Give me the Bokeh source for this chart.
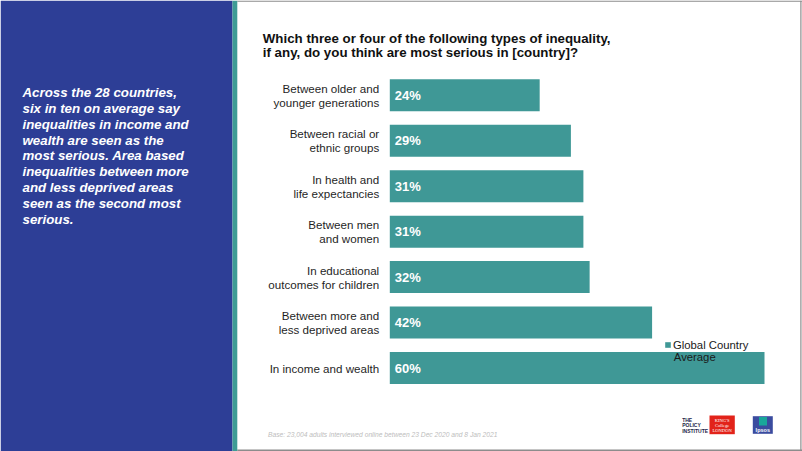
from bokeh.plotting import figure
from bokeh.models import (ColumnDataSource, Range1d, BoxAnnotation,
                          LabelSet, Legend, LegendItem)
from bokeh.core.properties import value
from bokeh.embed import file_html
from bokeh.resources import INLINE

# ---------------- data ----------------
categories = [
    "Between older and\nyounger generations",
    "Between racial or\nethnic groups",
    "In health and\nlife expectancies",
    "Between men\nand women",
    "In educational\noutcomes for children",
    "Between more and\nless deprived areas",
    "In income and wealth",
]
values = [24, 29, 31, 31, 32, 42, 60]
series_label = ["Global Country", "Average"]

title_lines = [
    "Which three or four of the following types of inequality,",
    "if any, do you think are most serious in [country]?",
]
side_lines = [
    "Across the 28 countries,",
    "six in ten on average say",
    "inequalities in income and",
    "wealth are seen as the",
    "most serious.  Area based",
    "inequalities between more",
    "and less deprived areas",
    "seen as the second most",
    "serious.",
]
footnote = "Base: 23,004 adults interviewed online between 23 Dec 2020 and 8 Jan 2021"

# ---------------- layout helpers ----------------
W, H = 802, 451
OFF = 0  # bokeh's page template has no body margin


def sx(x):
    return x - OFF


def sy(y):
    return H - (y - OFF)


FONT_S = "Liberation Sans"
FONT = value(FONT_S)
BAR = "#3F9896"
BLUE = "#2D3E96"
GREY = "#8C8C8C"

PX_PER_PCT = 6.245
BAR0 = 389.3
ROW = 45.45
ROW0 = 367.5  # centre of the bottom row (reference pixels)

x_range = Range1d((OFF - BAR0) / PX_PER_PCT, (OFF + W - BAR0) / PX_PER_PCT)
y_range = Range1d((ROW0 - (OFF + H)) / ROW, (ROW0 - OFF) / ROW)

n = len(categories)
src = ColumnDataSource(dict(
    y=[n - 1 - i for i in range(n)],
    value=values,
    cat=categories,
    pct=[f"{v}%" for v in values],
))

p = figure(width=W, height=H, x_range=x_range, y_range=y_range,
           output_backend="svg", toolbar_location=None,
           x_axis_type=None, y_axis_type=None, title=None,
           min_border=0, outline_line_color=None,
           background_fill_color="white", border_fill_color="white")


def box(l, r, t, b, color, level="annotation"):
    p.add_layout(BoxAnnotation(left=sx(l), right=sx(r), top=sy(t), bottom=sy(b),
                               left_units="screen", right_units="screen",
                               top_units="screen", bottom_units="screen",
                               fill_color=color, fill_alpha=1, line_color=None,
                               level=level))


def lines(x, y0, pitch, texts, size, color, style="normal", align="left",
          font=FONT_S):
    s = ColumnDataSource(dict(
        x=[sx(x)] * len(texts),
        y=[sy(y0 + pitch * i) for i in range(len(texts))],
        t=list(texts),
    ))
    p.add_layout(LabelSet(x="x", y="y", text="t", source=s,
                          x_units="screen", y_units="screen",
                          text_font=value(font), text_font_style=style,
                          text_font_size=size, text_color=color,
                          text_align=align, text_baseline="alphabetic"))


# slide frame, left panel + stripe
box(236.8, 802, 0, 1.2, GREY, "underlay")
box(236.8, 802, 449, 450.5, GREY, "underlay")
box(799.8, 801, 0, 451, GREY, "underlay")
box(0, 232, 0, 451, BLUE, "underlay")
box(232, 236.8, 0, 451, "#3E9C95", "underlay")

lines(22, 96.7, 15.8, side_lines, "13.3px", "white", "bold italic")
lines(262.3, 42.7, 13.8, title_lines, "13.3px", "#111111", "bold")

# bars
bars = p.hbar(y="y", left=0, right="value", height=0.704, source=src,
              fill_color=BAR, line_color=None)

p.text(x=0, y="y", text="pct", source=src, x_offset=5, text_align="left",
       text_baseline="middle", text_color="white", text_font=FONT,
       text_font_style="bold", text_font_size="13px")

p.text(x=0, y="y", text="cat", source=src, x_offset=-10.6, text_align="right",
       text_baseline="middle", text_color="#1F1F1F", text_font=FONT,
       text_font_size="11.6px", text_line_height=1.08)

# legend
legend = Legend(items=[LegendItem(label=series_label[0], renderers=[bars])],
                location=(sx(664.0), sy(350.5)),
                glyph_width=7, glyph_height=7, label_standoff=2,
                padding=0, margin=0, spacing=0, label_height=10,
                border_line_color=None, background_fill_alpha=0,
                label_text_font=FONT_S, label_text_font_size="11.3px",
                label_text_color="#1A1A1A")
p.add_layout(legend)
lines(673.3, 360.3, 0, [series_label[1]], "11.3px", "#1A1A1A")

# footnote
lines(267.5, 436.7, 0, [footnote], "6.7px", "#BDBDBD", "italic")

# logos
lines(681.7, 421.5, 5.3, ["THE", "POLICY", "INSTITUTE"], "5px", "#1E2547",
      "bold")
box(709, 734.3, 415, 433.7, "#E2231A")
lines(721.6, 421, 5, ["KING'S", "College", "LONDON"], "4.6px", "white",
      align="center", font="Liberation Serif")
box(752.3, 772.3, 415.7, 433.3, "#3A4C9F")
box(758.5, 766.5, 416.5, 425, "#19A79A")
lines(762.3, 431, 0, ["Ipsos"], "5.5px", "white", "bold", align="center")

open("out.html", "w").write(file_html(p, INLINE))
